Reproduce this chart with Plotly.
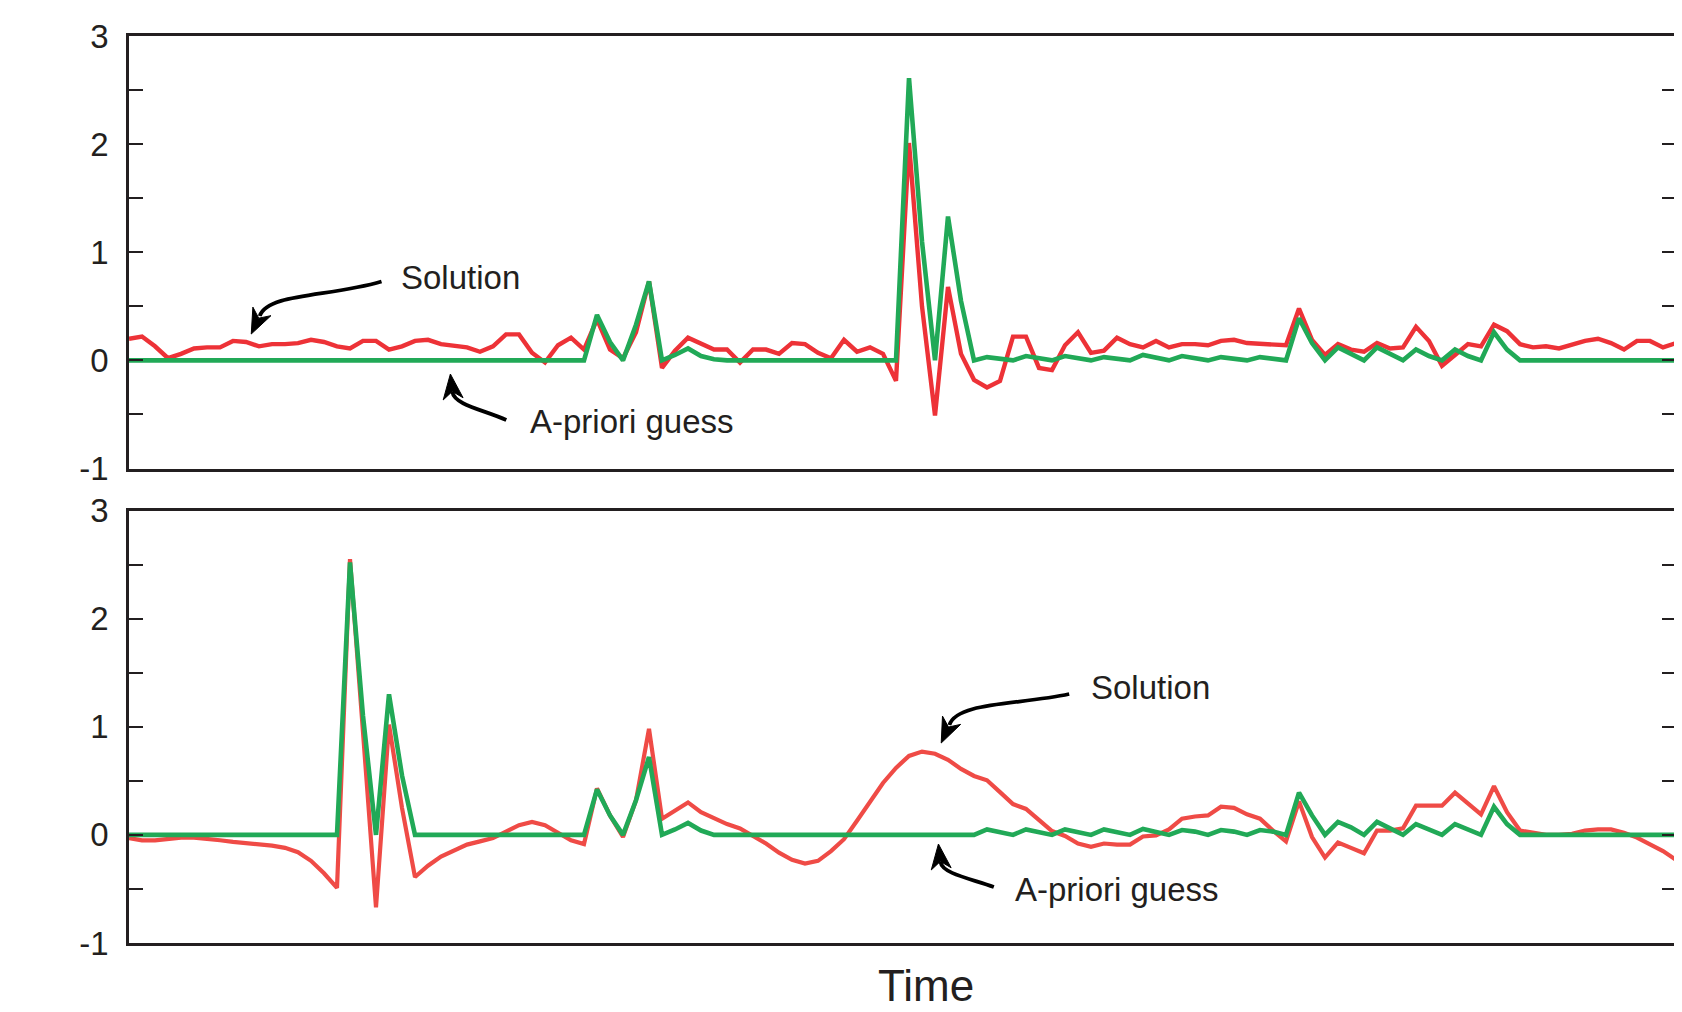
import plotly.graph_objects as go

# ---------------- data ----------------
time_index = list(range(120))

top_solution = [
    0.20, 0.22, 0.13, 0.02, 0.06, 0.11, 0.12, 0.12, 0.18, 0.17,
    0.13, 0.15, 0.15, 0.16, 0.19, 0.17, 0.13, 0.11, 0.18, 0.18,
    0.10, 0.13, 0.18, 0.19, 0.15, 0.14, 0.12, 0.08, 0.13, 0.24,
    0.24, 0.07, -0.02, 0.14, 0.21, 0.10, 0.38, 0.10, 0.02, 0.26,
    0.73, -0.07, 0.09, 0.21, 0.16, 0.10, 0.10, -0.02, 0.10, 0.10,
    0.06, 0.16, 0.15, 0.07, 0.02, 0.19, 0.08, 0.12, 0.06, -0.19,
    2.01, 0.50, -0.51, 0.68, 0.06, -0.18, -0.25, -0.19, 0.22, 0.22,
    -0.07, -0.09, 0.14, 0.26, 0.07, 0.09, 0.21, 0.15, 0.12, 0.18,
    0.12, 0.15, 0.15, 0.14, 0.18, 0.19, 0.16, 0.15, 0.15, 0.14,
    0.48, 0.19, 0.05, 0.15, 0.10, 0.08, 0.16, 0.11, 0.12, 0.31,
    0.18, -0.05, 0.05, 0.15, 0.13, 0.33, 0.27, 0.15, 0.12, 0.13,
    0.11, 0.15, 0.18, 0.20, 0.16, 0.10, 0.18, 0.18, 0.12, 0.16,
]

top_apriori = [
    0, 0, 0, 0, 0, 0, 0, 0, 0, 0,
    0, 0, 0, 0, 0, 0, 0, 0, 0, 0,
    0, 0, 0, 0, 0, 0, 0, 0, 0, 0,
    0, 0, 0, 0.01, 0.01, 0.0, 0.42, 0.17, 0.0, 0.33,
    0.73, 0.0, 0.05, 0.11, 0.04, 0.01, 0, 0, 0, 0,
    0, 0, 0, 0, 0, 0, 0, 0, 0, 0,
    2.61, 1.1, 0.0, 1.33, 0.55, 0.0, 0.03, 0.015, 0.0, 0.04,
    0.02, 0.0, 0.04, 0.02, 0.0, 0.03, 0.015, 0.0, 0.05, 0.025,
    0.0, 0.04, 0.02, 0.0, 0.03, 0.02, 0.0, 0.03, 0.02, 0.0,
    0.39, 0.16, 0.0, 0.12, 0.06, 0.0, 0.12, 0.06, 0.0, 0.10,
    0.04, 0.0, 0.10, 0.04, 0.0, 0.26, 0.10, 0.0, 0, 0,
    0, 0, 0, 0, 0, 0, 0, 0, 0, 0,
]

bottom_solution = [
    -0.03, -0.05, -0.05, -0.035, -0.025, -0.025, -0.035, -0.05, -0.065, -0.075,
    -0.085, -0.10, -0.12, -0.16, -0.24, -0.355, -0.49, 2.55, 0.95, -0.67,
    1.02, 0.25, -0.39, -0.285, -0.20, -0.14, -0.09, -0.06, -0.03, 0.03,
    0.09, 0.12, 0.09, 0.02, -0.05, -0.085, 0.43, 0.18, -0.02, 0.32,
    0.98, 0.15, 0.22, 0.30, 0.21, 0.15, 0.10, 0.06, -0.01, -0.08,
    -0.165, -0.23, -0.265, -0.24, -0.15, -0.04, 0.13, 0.30, 0.48, 0.62,
    0.73, 0.77, 0.75, 0.695, 0.61, 0.545, 0.505, 0.395, 0.285, 0.24,
    0.135, 0.035, -0.01, -0.08, -0.11, -0.08, -0.09, -0.09, -0.015, -0.005,
    0.05, 0.15, 0.17, 0.18, 0.26, 0.25, 0.19, 0.15, 0.04, -0.06,
    0.31, -0.02, -0.21, -0.07, -0.12, -0.17, 0.04, 0.04, 0.06, 0.27,
    0.27, 0.27, 0.39, 0.29, 0.19, 0.45, 0.21, 0.04, 0.02, 0.0,
    0.0, 0.01, 0.04, 0.05, 0.05, 0.02, -0.025, -0.09, -0.15, -0.23,
]

bottom_apriori = [
    0, 0, 0, 0, 0, 0, 0, 0, 0, 0,
    0, 0, 0, 0, 0, 0, 0, 2.52, 1.1, 0.0,
    1.30, 0.55, 0, 0, 0, 0, 0, 0, 0, 0,
    0, 0, 0, 0.01, 0.01, 0.0, 0.42, 0.18, 0.0, 0.32,
    0.72, 0.0, 0.05, 0.11, 0.04, 0.0, 0, 0, 0, 0,
    0, 0, 0, 0, 0, 0, 0, 0, 0, 0,
    0, 0, 0, 0, 0, 0, 0.05, 0.025, 0.0, 0.05,
    0.025, 0.0, 0.05, 0.025, 0.0, 0.05, 0.025, 0.0, 0.055, 0.027,
    0.0, 0.045, 0.03, 0.0, 0.045, 0.03, 0.0, 0.045, 0.03, 0.0,
    0.39, 0.18, 0.0, 0.12, 0.07, 0.0, 0.12, 0.06, 0.0, 0.10,
    0.05, 0.0, 0.10, 0.05, 0.0, 0.26, 0.10, 0.0, 0, 0,
    0, 0, 0, 0, 0, 0, 0, 0, 0, 0,
]

y_tick_values = [-1, -0.5, 0, 0.5, 1, 1.5, 2, 2.5, 3]
y_tick_labels = ["-1", "", "0", "", "1", "", "2", "", "3"]

# ---------------- layout geometry (page pixels) ----------------
PAGE_W, PAGE_H = 1682, 1012
OFF = 8                      # default body margin of the html page
W, H = PAGE_W - OFF, PAGE_H - OFF
PLOT_L, PLOT_R = 129, 1679   # page x of left / right frame
TOP_PX = (36.0, 468.5)       # page rows of y=3 and y=-1, top panel
BOT_PX = (510.5, 943.0)      # page rows of y=3 and y=-1, bottom panel
ML = PLOT_L - OFF
MR = W - (PLOT_R - OFF)
MT = TOP_PX[0] - OFF
MB = H - (BOT_PX[1] - OFF)
PW = W - ML - MR
PH = H - MT - MB
X_MAX = len(time_index) - 1

top_domain = [(BOT_PX[1] - TOP_PX[1]) / PH, 1.0]
bot_domain = [0.0, (BOT_PX[1] - BOT_PX[0]) / PH]

INK = "#231f20"
RED_TOP = "#ED3237"
RED_BOT = "#EF4B46"
GREEN = "#21A957"
FONT = "Liberation Sans, Arial, Helvetica, sans-serif"

fig = go.Figure()
fig.add_trace(go.Scatter(x=time_index, y=top_solution, mode="lines",
                         line=dict(color=RED_TOP, width=4.4), xaxis="x", yaxis="y",
                         showlegend=False))
fig.add_trace(go.Scatter(x=time_index, y=top_apriori, mode="lines",
                         line=dict(color=GREEN, width=4.6), xaxis="x", yaxis="y",
                         showlegend=False))
fig.add_trace(go.Scatter(x=time_index, y=bottom_solution, mode="lines",
                         line=dict(color=RED_BOT, width=4.2), xaxis="x2", yaxis="y2",
                         showlegend=False))
fig.add_trace(go.Scatter(x=time_index, y=bottom_apriori, mode="lines",
                         line=dict(color=GREEN, width=4.6), xaxis="x2", yaxis="y2",
                         showlegend=False))

xa = dict(range=[0, X_MAX], showline=True, mirror=True, linewidth=2.8, linecolor=INK,
          showticklabels=False, ticks="", showgrid=False, zeroline=False, domain=[0, 1])
ya = dict(range=[-1, 3], tickvals=y_tick_values, ticktext=y_tick_labels,
          ticks="inside", ticklen=14, tickwidth=2.4, tickcolor=INK,
          showline=True, mirror="ticks", linewidth=2.8, linecolor=INK,
          showgrid=False, zeroline=False, ticklabelstandoff=11,
          tickfont=dict(family=FONT, size=33, color=INK))

fig.update_layout(
    width=W, height=H,
    margin=dict(l=ML, r=MR, t=MT, b=MB, pad=0),
    paper_bgcolor="white", plot_bgcolor="white",
    xaxis=dict(xa, anchor="y"),
    yaxis=dict(ya, anchor="x", domain=top_domain),
    xaxis2=dict(xa, anchor="y2"),
    yaxis2=dict(ya, anchor="x2", domain=bot_domain),
    showlegend=False,
)


# ---------------- annotation arrows (defined in page pixels) ----------------
def px_to_data(px, py, panel):
    y3, ym1 = TOP_PX if panel == "top" else BOT_PX
    xv = X_MAX * (px - PLOT_L) / (PLOT_R - PLOT_L)
    yv = 3 - 4 * (py - y3) / (ym1 - y3)
    return xv, yv


def arrow_shapes(p0, p1, p2, p3, tip, panel, head_len=25, half_w=10, notch=0.3):
    xr, yr = ("x", "y") if panel == "top" else ("x2", "y2")
    pts = [px_to_data(*p, panel) for p in (p0, p1, p2, p3)]
    body = "M {:.4f},{:.4f} C {:.4f},{:.4f} {:.4f},{:.4f} {:.4f},{:.4f}".format(
        pts[0][0], pts[0][1], pts[1][0], pts[1][1], pts[2][0], pts[2][1], pts[3][0], pts[3][1])
    dx, dy = tip[0] - p3[0], tip[1] - p3[1]
    n = (dx * dx + dy * dy) ** 0.5
    ux, uy = dx / n, dy / n
    bx, by = tip[0] - head_len * ux, tip[1] - head_len * uy
    c1 = (bx - half_w * uy, by + half_w * ux)
    c2 = (bx + half_w * uy, by - half_w * ux)
    nb = (tip[0] - head_len * (1 - notch) * ux, tip[1] - head_len * (1 - notch) * uy)
    hp = [px_to_data(*p, panel) for p in (tip, c1, nb, c2)]
    head = "M {:.4f},{:.4f} L {:.4f},{:.4f} L {:.4f},{:.4f} L {:.4f},{:.4f} Z".format(
        hp[0][0], hp[0][1], hp[1][0], hp[1][1], hp[2][0], hp[2][1], hp[3][0], hp[3][1])
    return [
        dict(type="path", xref=xr, yref=yr, path=body, line=dict(color="black", width=3.8)),
        dict(type="path", xref=xr, yref=yr, path=head, fillcolor="black",
             line=dict(color="black", width=1)),
    ]


shapes = []
shapes += arrow_shapes((382, 281.5), (330, 297), (268, 293), (260, 316), (251.5, 334), "top")
shapes += arrow_shapes((507, 420), (485, 410), (455, 405), (453, 392), (451, 374), "top")
shapes += arrow_shapes((1071, 694), (1020, 705), (958, 702), (951, 725), (942.8, 743), "bottom")
shapes += arrow_shapes((995.5, 887), (974, 879), (944, 874), (942, 862), (940, 844), "bottom")
fig.update_layout(shapes=shapes)


# ---------------- text labels ----------------
def label(text, px, py, panel, size=33):
    xv, yv = px_to_data(px, py, panel)
    xr, yr = ("x", "y") if panel == "top" else ("x2", "y2")
    return dict(text=text, x=xv, y=yv, xref=xr, yref=yr, xanchor="left", yanchor="middle",
                showarrow=False, font=dict(family=FONT, size=size, color=INK))


annotations = [
    label("Solution", 400, 277, "top"),
    label("A-priori guess", 529, 421, "top"),
    label("Solution", 1091, 687, "bottom"),
    label("A-priori guess", 1015, 889, "bottom"),
    dict(text="Time", x=(928 - PLOT_L) / (PLOT_R - PLOT_L), y=(BOT_PX[1] - 985) / PH,
         xref="paper", yref="paper", xanchor="center", yanchor="middle", showarrow=False,
         font=dict(family=FONT, size=44, color=INK)),
]
fig.update_layout(annotations=annotations)

fig.write_html("out.html")
